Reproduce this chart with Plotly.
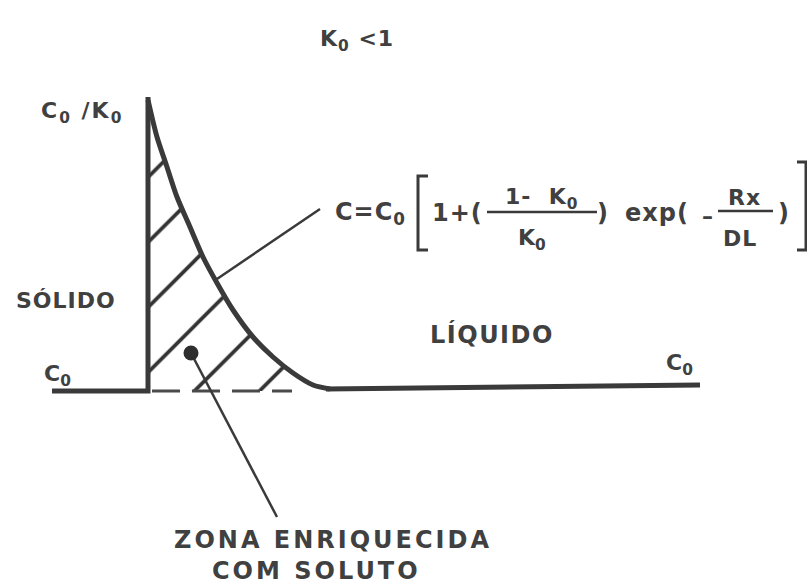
import plotly.graph_objects as go

W, H = 807, 587

# Solute profile ahead of the solid/liquid interface (K0 < 1)
solid_x = [52, 148, 148]
solid_c = [196, 196, 490]

curve_x = [148, 157, 167, 177, 190, 203, 217, 233, 253, 273, 293, 313, 330]
curve_c = [487, 450, 420, 390, 360, 330, 304, 277, 250, 230, 214, 202, 198]

liquid_x = [326, 700]
liquid_c = [198, 202]

# Baseline C0 under the enriched zone
base_x = [152, 292]
base_c = [196, 196]

# Marker for the enriched zone and its leader
dot_x = [191]
dot_c = [234]
leader_x = [191, 277]
leader_c = [234, 70]

# Leader to the concentration equation
eq_leader_x = [217, 320]
eq_leader_c = [308, 378]

INK = "#3a3a3a"
TEXT_INK = "#404040"
FONT = "DejaVu Sans"

fig = go.Figure()

# Hatched enriched zone
zone_x = [150] + curve_x[:-1] + [320, 150]
zone_c = [196] + curve_c[:-1] + [196, 196]
fig.add_trace(go.Scatter(
    x=zone_x, y=zone_c, mode="none", fill="toself",
    fillcolor="white",
    fillpattern=dict(shape="/", size=46, solidity=0.08, fgcolor="#333333",
                     fgopacity=1, bgcolor="white"),
    hoverinfo="skip", showlegend=False))

fig.add_trace(go.Scatter(x=base_x, y=base_c, mode="lines",
                         line=dict(color="#4a4a4a", width=3, dash="28px,12px"),
                         showlegend=False))
fig.add_trace(go.Scatter(x=solid_x, y=solid_c, mode="lines",
                         line=dict(color=INK, width=5), showlegend=False))
fig.add_trace(go.Scatter(x=curve_x, y=curve_c, mode="lines",
                         line=dict(color=INK, width=5, shape="spline", smoothing=0.8),
                         showlegend=False))
fig.add_trace(go.Scatter(x=liquid_x, y=liquid_c, mode="lines",
                         line=dict(color=INK, width=5), showlegend=False))
fig.add_trace(go.Scatter(x=leader_x, y=leader_c, mode="lines",
                         line=dict(color=INK, width=2.5), showlegend=False))
fig.add_trace(go.Scatter(x=eq_leader_x, y=eq_leader_c, mode="lines",
                         line=dict(color=INK, width=2.5), showlegend=False))
fig.add_trace(go.Scatter(x=dot_x, y=dot_c, mode="markers",
                         marker=dict(color="#2e2e2e", size=15), showlegend=False))

# Equation brackets and fraction bars
def ln(x0, y0, x1, y1, w=3):
    fig.add_shape(type="line", x0=x0, y0=y0, x1=x1, y1=y1,
                  line=dict(color=INK, width=w))

fig.add_shape(type="path", path="M 428 411 L 418 411 L 418 337 L 428 337",
              line=dict(color=INK, width=3))
fig.add_shape(type="path", path="M 797 425 L 806 425 L 806 337 L 797 337",
              line=dict(color=INK, width=3))
ln(487, 375, 597, 375, 2.5)
ln(718, 376, 773, 376, 2.5)

def txt(x, y, s, size=24, spacing=0):
    if spacing:
        s = '<span style="letter-spacing:%gpx">%s</span>' % (spacing, s)
    fig.add_annotation(x=x, y=H - y, text=s, showarrow=False,
                       xanchor="center", yanchor="middle",
                       font=dict(family=FONT, size=size, color=TEXT_INK, weight="bold"))

txt(357, 40, "K<sub>0</sub> <1", 22, 1)
txt(82, 112, "C<sub>0</sub> /K<sub>0</sub>", 22, 2)
txt(66, 300, "SÓLIDO", 22, 1)
txt(57, 375, "C<sub>0</sub>", 22)
txt(492, 334, "LÍQUIDO", 24, 1.5)
txt(679, 364, "C<sub>0</sub>", 22)
txt(333, 540, "ZONA ENRIQUECIDA", 24, 3)
txt(316, 571, "COM SOLUTO", 24, 3)

txt(370, 213, "C=C<sub>0</sub>", 24, 1)
txt(457, 213, "1+(", 24, 1)
txt(542, 198, "1-  K<sub>0</sub>", 22, 1)
txt(532, 239, "K<sub>0</sub>", 22)
txt(602, 213, ")", 24)
txt(657, 213, "exp(", 24, 1)
txt(707, 216, "–", 22)
txt(744, 197, "Rx", 22, 1)
txt(740, 238, "DL", 22, 1)
txt(783, 213, ")", 24)

fig.update_layout(
    width=W, height=H, margin=dict(l=0, r=0, t=0, b=0),
    paper_bgcolor="white", plot_bgcolor="white", showlegend=False,
    xaxis=dict(range=[0, W], visible=False, fixedrange=True),
    yaxis=dict(range=[0, H], visible=False, fixedrange=True),
)

fig.write_html("out.html")
